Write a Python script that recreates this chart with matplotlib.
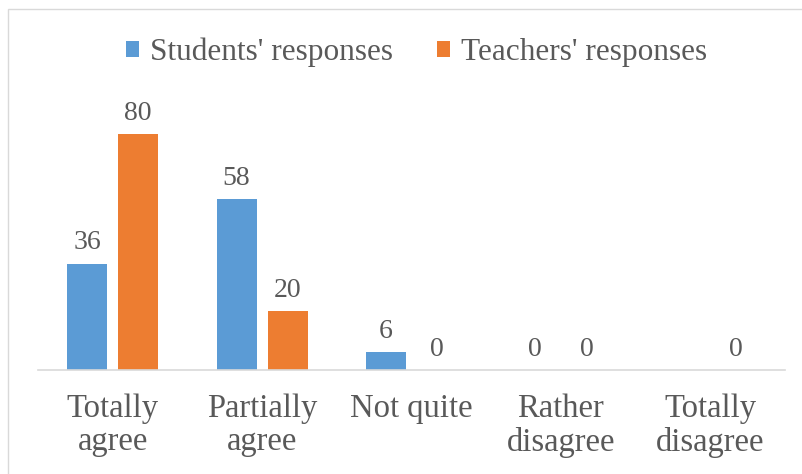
import numpy as np
import matplotlib
matplotlib.use("Agg")
import matplotlib.pyplot as plt
from matplotlib.patches import Rectangle

# Survey answers (percent)
categories = ["Totally\nagree", "Partially\nagree", "Not quite", "Rather\ndisagree", "Totally\ndisagree"]
students = [36, 58, 6, 0, np.nan]   # no students' value shown for the last category
teachers = [80, 20, 0, 0, 0]
series_names = ["Students' responses", "Teachers' responses"]

blue = "#5B9BD5"
orange = "#ED7D31"
text_col = "#595959"
grid_col = "#D9D9D9"

plt.rcParams['font.family'] = ['Liberation Serif', 'DejaVu Serif']

fig = plt.figure(figsize=(8.02, 4.74), dpi=100)
ax = fig.add_axes([38 / 802, (474 - 370) / 474, 747 / 802, 295 / 474])

x = np.arange(len(categories))
width = 0.268
offset = 0.171

bars_s = ax.bar(x - offset, np.nan_to_num(students), width, color=blue, label=series_names[0])
bars_t = ax.bar(x + offset, teachers, width, color=orange, label=series_names[1])

# data labels
for bars, vals in ((bars_s, students), (bars_t, teachers)):
    for b, v in zip(bars, vals):
        if np.isnan(v):
            continue
        ax.annotate(f"{v:g}", (b.get_x() + b.get_width() / 2, v),
                    xytext=(0, 6), textcoords="offset points",
                    ha="center", va="bottom", fontsize=20, color=text_col)

ax.set_xlim(-0.5, len(categories) - 0.5)
ax.set_ylim(0, 100)
ax.set_xticks(x)
ax.set_xticklabels(categories, fontsize=23.5, color=text_col, linespacing=1.12)
ax.tick_params(axis="x", length=0, pad=17)
ax.set_yticks([])
for side in ("top", "right", "left"):
    ax.spines[side].set_visible(False)
ax.spines["bottom"].set_color(grid_col)
ax.spines["bottom"].set_linewidth(1.2)

fig.legend(loc="center", bbox_to_anchor=(0.519, 0.89), ncol=2, frameon=False,
           fontsize=22.5, handlelength=0.42, handleheight=0.42, handletextpad=0.35,
           columnspacing=1.4, labelcolor=text_col)

# chart border
fig.patches.append(Rectangle((8 / 802, -0.05), 1.0, 1 - 9 / 474 + 0.05,
                             transform=fig.transFigure, fill=False,
                             edgecolor=grid_col, linewidth=1))

fig.savefig("out.png", dpi=100)
